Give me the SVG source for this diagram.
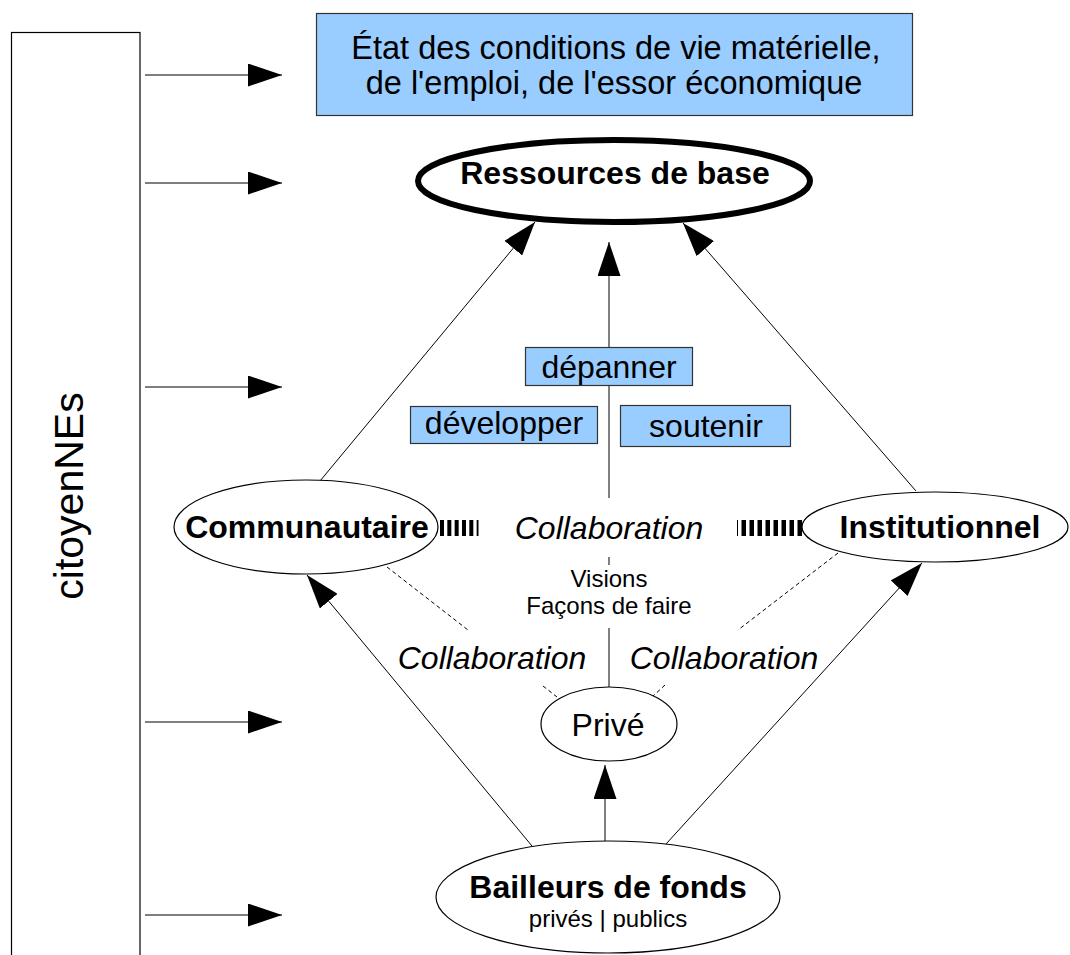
<svg xmlns="http://www.w3.org/2000/svg" width="1070" height="955" viewBox="0 0 1070 955">
<style>
text{font-family:"Liberation Sans",Arial,sans-serif;fill:#000}
.big{font-size:32px}
.b{font-weight:bold}
.it{font-style:italic}
.sm{font-size:24px}
.c{text-anchor:middle}
.ln{stroke:#000;stroke-width:1;fill:none}
.dash{stroke:#000;stroke-width:1;fill:none;stroke-dasharray:4 3}
.hatch{stroke:#000;stroke-width:16;fill:none}
.blue{fill:#99ccff;stroke:#333;stroke-width:1.2}
.ell{fill:#fff;stroke:#000;stroke-width:1.2}
</style>
<defs>
<marker id="ah" markerUnits="userSpaceOnUse" markerWidth="34" markerHeight="23" viewBox="0 0 34 23" refX="34" refY="11.5" orient="auto">
<path d="M0,0 L34,11.5 L0,23 z" fill="#000"/>
</marker>
</defs>
<rect width="1070" height="955" fill="#fff"/>

<g id="citoyennes">
<rect x="11.5" y="32.5" width="128.5" height="940" fill="#fff" stroke="#000" stroke-width="1.2"/>
<text class="c" font-size="41" transform="translate(83,496) rotate(-90)">citoyenNEs</text>
</g>

<g id="connectors">
<line class="ln" x1="145" y1="75" x2="282" y2="75" marker-end="url(#ah)"/>
<line class="ln" x1="145" y1="183" x2="282" y2="183" marker-end="url(#ah)"/>
<line class="ln" x1="145" y1="387" x2="282" y2="387" marker-end="url(#ah)"/>
<line class="ln" x1="145" y1="722" x2="282" y2="722" marker-end="url(#ah)"/>
<line class="ln" x1="145" y1="915" x2="282" y2="915" marker-end="url(#ah)"/>

<line class="ln" x1="320" y1="481" x2="535" y2="222" marker-end="url(#ah)"/>
<line class="ln" x1="609" y1="498" x2="609" y2="242" marker-end="url(#ah)"/>
<line class="ln" x1="916" y1="491" x2="683" y2="223" marker-end="url(#ah)"/>
<line class="ln" x1="609" y1="557" x2="609" y2="565"/>
<line class="ln" x1="609" y1="628" x2="609" y2="687"/>

<line class="ln" x1="532" y1="846" x2="307" y2="575" marker-end="url(#ah)"/>
<line class="ln" x1="605" y1="841" x2="605" y2="765" marker-end="url(#ah)"/>
<line class="ln" x1="666" y1="844" x2="922" y2="563" marker-end="url(#ah)"/>

<line class="dash" x1="387" y1="567" x2="468" y2="630"/>
<line class="dash" x1="543" y1="686" x2="557" y2="697"/>
<line class="dash" x1="838" y1="553" x2="738" y2="630"/>
<line class="dash" x1="665" y1="685" x2="652" y2="697"/>

<line class="hatch" x1="440" y1="528" x2="478.5" y2="528" stroke-dasharray="4 3.33"/>
<line class="hatch" x1="802" y1="528" x2="737" y2="528" stroke-dasharray="4.5 3.5"/>
</g>

<g id="etat">
<rect class="blue" x="316.5" y="13.5" width="596" height="102"/>
<text class="c" font-size="32.5" x="616" y="59">État des conditions de vie matérielle,</text>
<text class="c" font-size="32.5" x="614" y="94">de l'emploi, de l'essor économique</text>
</g>

<g id="ressources">
<ellipse cx="614" cy="181" rx="196" ry="41" fill="#fff" stroke="#000" stroke-width="6"/>
<text class="big b c" x="615" y="184">Ressources de base</text>
</g>

<g id="depanner">
<rect class="blue" x="525.5" y="347.5" width="167" height="38"/>
<text class="big c" x="609" y="378">dépanner</text>
</g>
<g id="developper">
<rect class="blue" x="410.5" y="406.5" width="187" height="37"/>
<text class="big c" x="504" y="434">développer</text>
</g>
<g id="soutenir">
<rect class="blue" x="620.5" y="405.5" width="170" height="41"/>
<text class="big c" x="706" y="437">soutenir</text>
</g>

<g id="communautaire">
<ellipse class="ell" cx="306" cy="527" rx="132" ry="47"/>
<text class="big b c" x="307" y="538">Communautaire</text>
</g>

<g id="institutionnel">
<ellipse class="ell" cx="935" cy="527" rx="133" ry="35"/>
<text class="big b c" x="940" y="538">Institutionnel</text>
</g>

<g id="collab-center">
<text class="big it c" x="609" y="539">Collaboration</text>
<text class="sm c" x="609" y="587">Visions</text>
<text class="sm c" x="609" y="614">Façons de faire</text>
</g>
<g id="collab-left">
<text class="big it c" x="492" y="669">Collaboration</text>
</g>
<g id="collab-right">
<text class="big it c" x="724" y="669">Collaboration</text>
</g>

<g id="prive">
<ellipse class="ell" cx="609" cy="724" rx="68" ry="37"/>
<text class="big c" x="608" y="736">Privé</text>
</g>

<g id="bailleurs">
<ellipse class="ell" cx="608" cy="897" rx="172" ry="56"/>
<text class="big b c" x="608" y="898">Bailleurs de fonds</text>
<text class="sm c" x="608" y="927">privés | publics</text>
</g>
</svg>
